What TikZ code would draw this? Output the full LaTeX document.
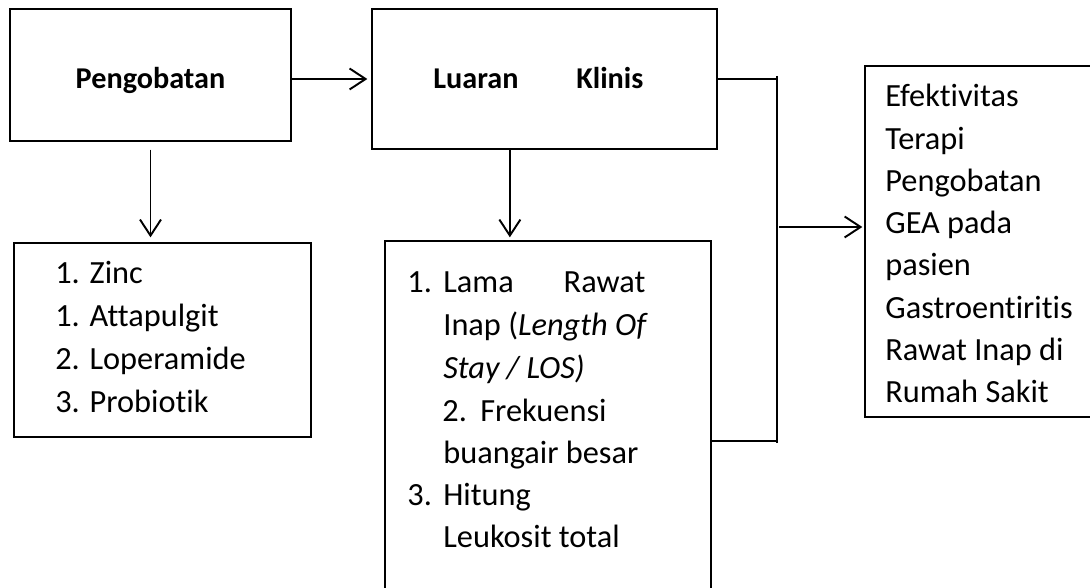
\documentclass[tikz,border=0pt]{standalone}
\usepackage{fontspec}
\setmainfont[Ligatures=NoCommon]{Carlito}
\usetikzlibrary{arrows.meta,positioning,calc}

\tikzset{
  box/.style={draw, line width=0.75pt, inner sep=0pt},
  title/.style={font=\fontsize{17.2}{20}\selectfont\bfseries},
  itemline/.style={anchor=base west, inner sep=0pt, font=\fontsize{18.4}{22}\selectfont},
  wire/.style={line width=1.1pt},
  arr/.style={wire, -{Straight Barb[length=0.32cm, width=0.42cm, line width=1.1pt]}}
}

\begin{document}
\begin{tikzpicture}
    \useasboundingbox (0,0) rectangle (21.8,11.76);
    % boxes
    \node[box, minimum width=5.62cm, minimum height=2.64cm, title, text height=0.56cm, text depth=0pt] (treat) at (3.01,10.26) {Pengobatan};
    \node[box, minimum width=6.9cm, minimum height=2.8cm] (outcome) at (10.89,10.18) {};
    \node[title, anchor=base west, inner sep=0pt] (outcometitle) at (8.66,9.98) {\makebox[4.2cm][s]{Luaran Klinis}};
    \node[box, minimum width=5.94cm, minimum height=3.88cm] (drugs) at (3.25,4.96) {};
    \node[box, minimum width=6.52cm, minimum height=7.24cm] (clinical) at (10.96,3.32) {};
    \node[box, minimum width=4.6cm, minimum height=7.02cm] (effect) at (19.6,6.93) {};
    % drug list
    \foreach \txt [count=\i] in {1. Zinc, 1. Attapulgit, 2. Loperamide, 3. Probiotik}
      \node[itemline] (drug\i) at (1.1, 6.94-0.86*\i) {\txt};
    % clinical outcomes
    \node[itemline] (los) at (8.14,5.90) {\makebox[0.72cm][l]{1.}\makebox[4.04cm][s]{Lama Rawat}};
    \node[itemline] (losb) at (8.86,5.04) {Inap (\textit{Length Of}};
    \node[itemline] (losc) at (8.86,4.18) {\textit{Stay / LOS)}};
    \node[itemline] (freq) at (8.84,3.32) {\makebox[0.76cm][l]{2.}Frekuensi};
    \node[itemline] (freqb) at (8.86,2.48) {buangair besar};
    \node[itemline] (leuk) at (8.14,1.64) {\makebox[0.72cm][l]{3.}Hitung};
    \node[itemline] (leukb) at (8.86,0.80) {Leukosit total};
    % effectiveness text
    \foreach \txt [count=\i] in {Efektivitas, Terapi, Pengobatan, GEA pada, pasien, Gastroentiritis, Rawat Inap di, Rumah Sakit}
      \node[itemline] (eff\i) at (17.7, 10.465-0.845*\i) {\txt};
    % connectors
    \draw[arr, shorten >=0.08cm] (treat.east |- outcome) -- (outcome.west);
    \draw[arr, shorten <=0.16cm, shorten >=0.1cm] (treat.south) -- (treat.south |- drugs.north);
    \coordinate (odrop) at ($(outcome.south west)!0.4!(outcome.south east)$);
    \draw[arr, shorten >=0.06cm] (odrop) -- (odrop |- clinical.north);
    \coordinate (bustop) at (15.54,10.24);
    \coordinate (busjoin) at (15.54,2.94);
    \coordinate (busbot) at (15.54,2.90);
    \coordinate (busout) at (15.58,7.22);
    \draw[wire] (bustop) -- (busbot);
    \draw[wire] (outcome.east) -- (outcome.east -| bustop);
    \draw[wire] (busjoin -| clinical.east) -- (busjoin);
    \draw[arr, shorten >=0.04cm] (busout) -- (busout -| effect.west);
\end{tikzpicture}
\end{document}
